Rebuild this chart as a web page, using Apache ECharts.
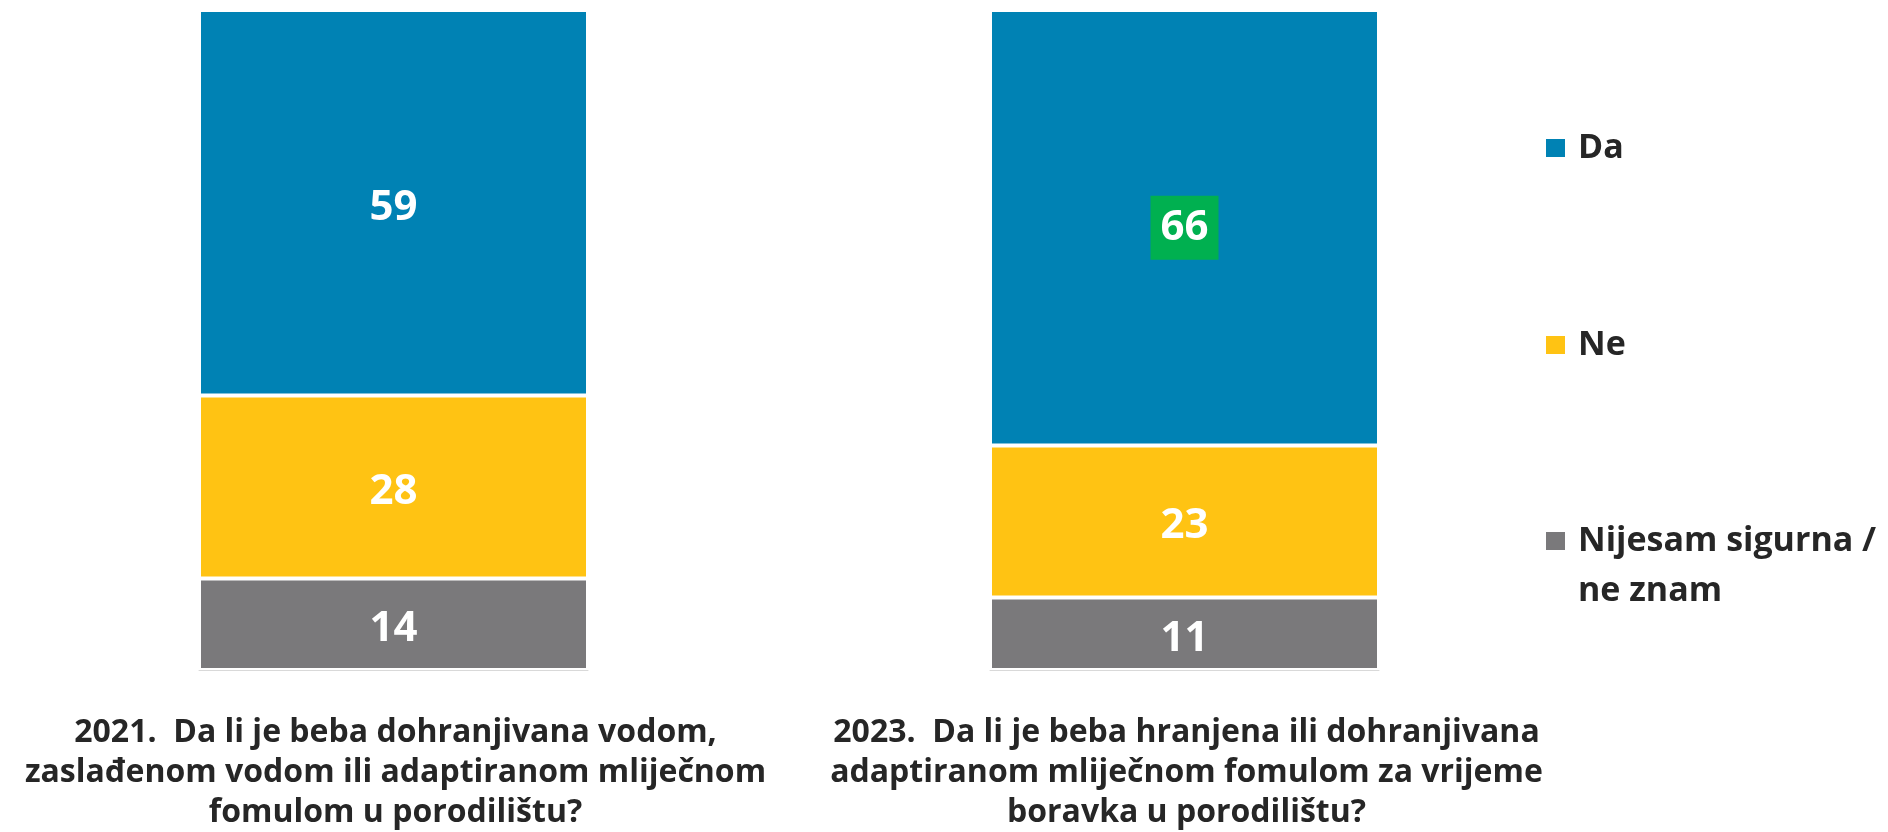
<!DOCTYPE html>
<html>
<head>
<meta charset="utf-8">
<script src="https://cdn.jsdelivr.net/npm/echarts@6/dist/echarts.min.js"></script>
<style>
  html, body { margin: 0; padding: 0; background: #fff; }
  #chart { width: 1888px; height: 832px; }
</style>
</head>
<body>
<div id="chart"></div>
<script>
// podaci
const years = ['2021', '2023']
const da = [59, 66]
const ne = [28, 23]
const neZnam = [14, 11]
const daHighlight = [false, true]
const seriesNames = ['Da', 'Ne', 'Nijesam sigurna / ne znam']
const questions = [
  '2021.  Da li je beba dohranjivana vodom,\nzaslađenom vodom ili adaptiranom mliječnom\nfomulom u porodilištu?',
  '2023.  Da li je beba hranjena ili dohranjivana\nadaptiranom mliječnom fomulom za vrijeme\nboravka u porodilištu?'
]

const colors = { da: '#0082B4', ne: '#FFC313', neZnam: '#7A797B' }
const font = '"Open Sans", "Noto Sans", sans-serif'
const barLeft = [199, 990]
const barWidth = 389

const chart = echarts.init(document.getElementById('chart'))

const grids = []
const xAxes = []
const yAxes = []
const series = []

years.forEach((year, i) => {
  grids.push({ left: barLeft[i], width: barWidth, top: 10, height: 660 })
  xAxes.push({
    type: 'category', gridIndex: i, data: [year],
    axisLine: { show: true, lineStyle: { color: '#D9D9D9' } },
    axisTick: { show: false }, axisLabel: { show: false }
  })
  yAxes.push({
    type: 'value', gridIndex: i, min: 0, max: da[i] + ne[i] + neZnam[i],
    show: false, splitLine: { show: false }
  })
  const parts = [
    { name: seriesNames[2], value: neZnam[i], color: colors.neZnam },
    { name: seriesNames[1], value: ne[i], color: colors.ne },
    { name: seriesNames[0], value: da[i], color: colors.da, hl: daHighlight[i] }
  ]
  parts.forEach(p => {
    const item = { value: p.value }
    if (p.hl) {
      // zeleni okvir oko vrijednosti
      item.label = { backgroundColor: '#00B050', padding: [17, 10, 7, 10], offset: [0, 0] }
    }
    series.push({
      type: 'bar', name: p.name, stack: 's' + i,
      xAxisIndex: i, yAxisIndex: i,
      barWidth: '100%',
      itemStyle: { color: p.color, borderColor: '#fff', borderWidth: 2 },
      label: {
        show: true, position: 'inside', color: '#fff', offset: [0, 5],
        fontFamily: font, fontWeight: 'bold', fontSize: 42, lineHeight: 40
      },
      emphasis: { disabled: true },
      data: [item]
    })
  })
})

const legendBase = {
  orient: 'vertical', left: 1544, padding: 0, itemWidth: 21, itemHeight: 20, icon: 'rect',
  selectedMode: false,
  textStyle: { fontFamily: font, fontWeight: 'bold', fontSize: 34, lineHeight: 50, color: '#262626', padding: [0, 0, 0, 7] }
}

const option = {
  animation: false,
  grid: grids,
  xAxis: xAxes,
  yAxis: yAxes,
  legend: [
    { ...legendBase, top: 123, data: [seriesNames[0]] },
    { ...legendBase, top: 320, data: [seriesNames[1]] },
    {
      ...legendBase, top: 466, data: [seriesNames[2]],
      // prazan red iznad da bi ikona stajala uz prvi red teksta
      formatter: n => '\n' + n.replace(' / ', ' /\n')
    }
  ],
  title: questions.map((q, i) => ({
    text: q,
    left: barLeft[i] + barWidth / 2 + 2,
    top: 713,
    padding: 0,
    textAlign: 'center',
    textStyle: { fontFamily: font, fontWeight: 'bold', fontSize: 32, lineHeight: 40, color: '#262626' }
  })),
  series: series
}

chart.setOption(option)
</script>
</body>
</html>
